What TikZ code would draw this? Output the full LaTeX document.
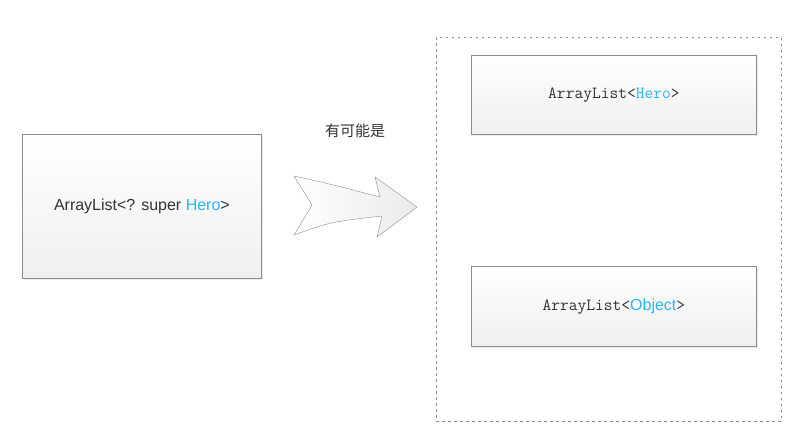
\documentclass[tikz,border=0pt]{standalone}
\usepackage{fontspec}
\setmainfont{Liberation Sans}
\newfontfamily\cjkfont{Noto Sans CJK SC}
\usepackage{tikz}
\usetikzlibrary{positioning,shadows}
\definecolor{heroblue}{RGB}{41,182,246}
\definecolor{boxline}{RGB}{140,140,140}
\definecolor{textgray}{RGB}{51,51,51}

\begin{document}
\begin{tikzpicture}[x=1pt, y=-1pt,
  classbox/.style={rectangle, draw=boxline, thick, top color=white, bottom color=black!6,
    anchor=north west, inner sep=0pt, text=textgray,
    drop shadow={shadow xshift=1.5pt, shadow yshift=-1.5pt, opacity=0.15}},
  monotext/.style={font=\fontsize{17}{18}\ttfamily},
  ]
  \useasboundingbox (0,0) rectangle (801,442);
  %nodes
  \node at (22, 134) [classbox, minimum width=239pt, minimum height=144pt,
    font=\fontsize{16}{18}\selectfont] (wildcard) {ArrayList<? super \textcolor{heroblue}{Hero}>};

  \node at (436, 37) [rectangle, draw=boxline, anchor=north west, dash pattern=on 2.5pt off 3.5pt,
    minimum width=345pt, minimum height=384pt] (group) {};

  \node at (471, 55) [classbox, minimum width=285pt, minimum height=79pt,
    monotext] (herolist) {ArrayList<\textcolor{heroblue}{Hero}>};
  \node at (471, 266) [classbox, minimum width=285pt, minimum height=80pt,
    monotext] (objectlist) {ArrayList<\textcolor{heroblue}{\fontsize{16}{18}\rmfamily Object}>};

  \node at (355, 131) [text=textgray, font=\fontsize{15}{18}\cjkfont] (maybe) {有可能是};

  % big arrow
  \draw[boxline, left color=white, right color=black!8]
    (294,176) .. controls (330,184) .. (380,197)
    -- (375,177) -- (417,207) -- (377,237) -- (382,216)
    .. controls (330,222) .. (294,235)
    -- (312,205) -- cycle;
\end{tikzpicture}
\end{document}
